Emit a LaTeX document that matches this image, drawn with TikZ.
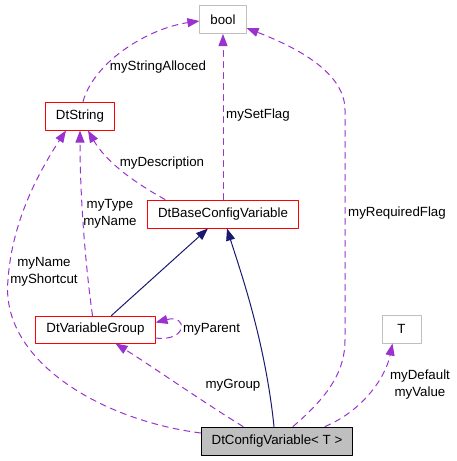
\documentclass[tikz,border=0pt]{standalone}
\usepackage{fontspec}
\setmainfont{Liberation Sans}
\usetikzlibrary{arrows.meta}
\definecolor{edgepurple}{HTML}{9A32CD}
\definecolor{edgenavy}{HTML}{191970}
\definecolor{boxgray}{HTML}{BFBFBF}
\tikzset{
	classbox/.style={draw=red,line width=1pt,inner xsep=10.5pt,minimum height=28pt,minimum width=39pt},
	extbox/.style={classbox,draw=boxgray},
	mainbox/.style={classbox,draw=black,fill=boxgray},
	uses/.style={->,edgepurple,line width=1pt,dash pattern=on 6pt off 5pt},
	inherits/.style={->,edgenavy,line width=1pt},
	lbl/.style={align=center,inner sep=0pt}
}
\begin{document}
\begin{tikzpicture}[line cap=round,line join=round,>={Triangle[length=12pt,width=9pt]},x=1pt,y=-1pt,font=\fontsize{13.3}{17}\selectfont]
		\useasboundingbox (0,0) rectangle (457,461);
		% class boxes
		\node[extbox] (bool) at (223,19.5) {bool};
		\node[classbox] (dtstring) at (80,116) {DtString};
		\node[classbox] (dtbase) at (223,214) {DtBaseConfigVariable};
		\node[classbox,minimum height=27pt] (dtgroup) at (95.5,329.5) {DtVariableGroup};
		\node[extbox] (tparam) at (401.5,329) {T};
		\node[mainbox] (dtconfig) at (277,441) {DtConfigVariable< T >};
		% inheritance
		\draw[inherits] ([xshift=16pt]dtgroup.north) -- ([xshift=-15pt]dtbase.south);
		\draw[inherits] ([xshift=-3pt]dtconfig.north) .. controls (265,340) and (240,270) .. ([xshift=4pt]dtbase.south);
		% members
		\draw[uses] ([xshift=3pt]dtstring.north) .. controls (95,60) and (150,28) .. ([yshift=-1.5pt]bool.west);
		\draw[uses] (dtbase.north) -- (bool.south);
		\draw[uses] ([xshift=-58pt]dtbase.north) .. controls (130,180) and (105,160) .. ([xshift=8pt]dtstring.south);
		\draw[uses] ([xshift=-3pt]dtgroup.north) .. controls (86,270) and (80,200) .. (dtstring.south);
		\draw[uses] ([yshift=8pt]dtconfig.west) .. controls (100,420) and (0,360) .. (8,280) .. controls (12,220) and (40,170) .. ([xshift=-14pt]dtstring.south);
		\draw[uses] ([yshift=-8.5pt]dtgroup.east) .. controls (188,342) and (188,314) .. ([yshift=7pt]dtgroup.east);
		\draw[uses] ([xshift=-34pt]dtconfig.north) .. controls (200,400) and (150,365) .. ([xshift=20pt]dtgroup.south);
		\draw[uses] ([xshift=16pt]dtconfig.north) .. controls (330,395) and (345,370) .. (345,340) -- (345,110) .. controls (345,70) and (290,45) .. ([yshift=-8.5pt]bool.east);
		\draw[uses] ([xshift=48pt]dtconfig.north) .. controls (360,412) and (385,380) .. ([xshift=-9pt]tparam.south);
		% member names
		\node[lbl] (lalloc) at (158,67) {myStringAlloced};
		\node[lbl] (lsetflag) at (258,115) {mySetFlag};
		\node[lbl] (ldesc) at (162,163) {myDescription};
		\node[lbl] (ltype) at (110,213.5) {myType\\myName};
		\node[lbl] (lshort) at (44,272) {myName\\myShortcut};
		\node[lbl] (lparent) at (211.5,329) {myParent};
		\node[lbl] (lgroup) at (233,385) {myGroup};
		\node[lbl] (lreq) at (397,213) {myRequiredFlag};
		\node[lbl] (ldefault) at (420,384.5) {myDefault\\myValue};
	\end{tikzpicture}
\end{document}
